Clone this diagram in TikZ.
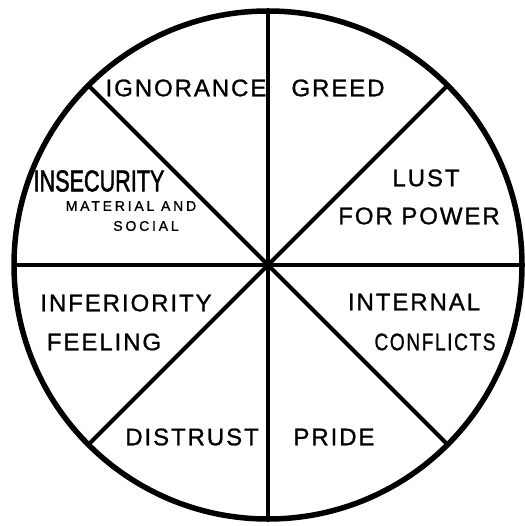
\documentclass[tikz,border=0pt]{standalone}
\usepackage{fontspec}
\setmainfont{Liberation Sans}
\tikzset{
  every picture/.style={x=1pt, y=-1pt},
  wheel/.style={draw, circle, minimum size=508pt, inner sep=0pt, outer sep=0pt, line width=5.5pt},
  spoke/.style={line width=4pt, line cap=round},
  word/.style={inner sep=0pt, font=\fontsize{24}{28}\selectfont\addfontfeature{LetterSpace=8,FakeBold=1}},
  bigword/.style={inner sep=0pt, font=\fontsize{30}{32}\selectfont\addfontfeature{FakeBold=2}},
  small/.style={inner sep=0pt, font=\fontsize{14}{16}\selectfont\addfontfeature{LetterSpace=20,FakeBold=1}},
}
\begin{document}
\begin{tikzpicture}
  \useasboundingbox[fill=white] (0,0) rectangle (524,526);
  \node[wheel] (rim) at (268,265) {};
  \draw[spoke] (rim.90) -- (rim.270);
  \draw[spoke] (rim.0) -- (rim.180);
  \draw[spoke] (rim.45) -- (rim.225);
  \draw[spoke] (rim.135) -- (rim.315);
  % top half
  \node[word] (ign) at (186,88) {IGNORANCE};
  \node[word] (grd) at (338,88) {GREED};
  \node[word] (lust) at (426,178) {LUST};
  \node[word] (pwr) at (419,216) {FOR POWER};
  \node[bigword] (insec) at (99,181) {\scalebox{0.72}[1]{INSECURITY}};
  \node[small] (matl) at (131,206) {MATERIAL AND};
  \node[small] (soc) at (146,226) {SOCIAL};
  % bottom half
  \node[word] (infer) at (126,303) {INFERIORITY};
  \node[word] (feel) at (104,342) {FEELING};
  \node[word] (intl) at (414,302) {INTERNAL};
  \node[word] (conf) at (435,342) {\scalebox{0.8}[1]{CONFLICTS}};
  \node[word] (dist) at (192,437) {DISTRUST};
  \node[word] (pride) at (334,437) {PRIDE};
\end{tikzpicture}
\end{document}
